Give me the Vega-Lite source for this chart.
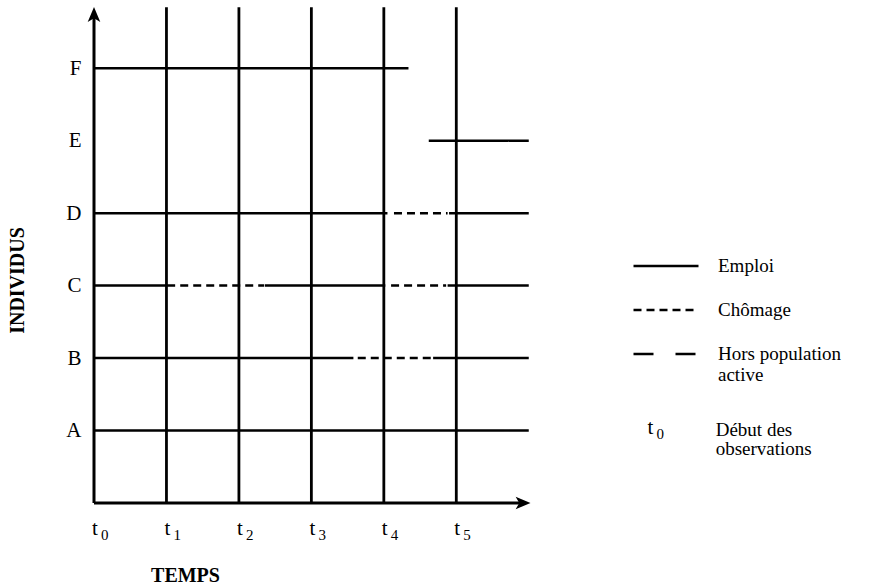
{
  "$schema": "https://vega.github.io/schema/vega-lite/v6.json",
  "width": 442,
  "height": 500,
  "autosize": {"type": "none"},
  "padding": {"left": 94, "top": 3, "right": 343, "bottom": 85},
  "config": {"view": {"stroke": null}, "font": "Liberation Serif", "text": {"font": "Liberation Serif", "color": "black"}},
  "datasets": {
    "segments": [
      {"individu": "A", "rang": 1, "debut": 0, "fin": 6, "etat": "Emploi"},
      {"individu": "B", "rang": 2, "debut": 0, "fin": 3.58, "etat": "Emploi"},
      {"individu": "B", "rang": 2, "debut": 3.64, "fin": 4.66, "etat": "Chômage"},
      {"individu": "B", "rang": 2, "debut": 4.68, "fin": 6, "etat": "Emploi"},
      {"individu": "C", "rang": 3, "debut": 0, "fin": 1.12, "etat": "Emploi"},
      {"individu": "C", "rang": 3, "debut": 1.19, "fin": 2.35, "etat": "Chômage"},
      {"individu": "C", "rang": 3, "debut": 2.36, "fin": 4.02, "etat": "Emploi"},
      {"individu": "C", "rang": 3, "debut": 4.1, "fin": 4.86, "etat": "Chômage"},
      {"individu": "C", "rang": 3, "debut": 4.88, "fin": 6, "etat": "Emploi"},
      {"individu": "D", "rang": 4, "debut": 0, "fin": 4.05, "etat": "Emploi"},
      {"individu": "D", "rang": 4, "debut": 4.14, "fin": 4.88, "etat": "Chômage"},
      {"individu": "D", "rang": 4, "debut": 4.9, "fin": 6, "etat": "Emploi"},
      {"individu": "E", "rang": 5, "debut": 4.62, "fin": 6, "etat": "Emploi"},
      {"individu": "F", "rang": 6, "debut": 0, "fin": 4.34, "etat": "Emploi"}
    ],
    "temps": [
      {"t": 0, "nom": "t", "indice": "0"},
      {"t": 1, "nom": "t", "indice": "1"},
      {"t": 2, "nom": "t", "indice": "2"},
      {"t": 3, "nom": "t", "indice": "3"},
      {"t": 4, "nom": "t", "indice": "4"},
      {"t": 5, "nom": "t", "indice": "5"}
    ],
    "note": [
      {"x": 7.64, "y": 1, "nom": "t", "indice": "0", "texte": ["Début des", "observations"], "xt": 8.58}
    ]
  },
  "layer": [
    {
      "data": {"name": "temps"},
      "transform": [{"filter": "datum.t > 0"}],
      "mark": {"type": "rule", "color": "black", "strokeWidth": 2.8},
      "encoding": {
        "x": {"field": "t", "type": "quantitative", "scale": {"domain": [0, 6.1], "nice": false, "zero": false}},
        "y": {"datum": 0, "type": "quantitative", "scale": {"domain": [0, 6.9], "nice": false, "zero": false}},
        "y2": {"datum": 6.84}
      }
    },
    {
      "data": {"values": [{"a": 0}]},
      "mark": {"type": "rule", "color": "black", "strokeWidth": 3},
      "encoding": {
        "x": {"datum": 0, "type": "quantitative"},
        "y": {"datum": 0, "type": "quantitative"},
        "y2": {"datum": 6.72}
      }
    },
    {
      "data": {"values": [{"a": 0}]},
      "mark": {"type": "rule", "color": "black", "strokeWidth": 3},
      "encoding": {
        "x": {"datum": 0, "type": "quantitative"},
        "x2": {"datum": 5.9},
        "y": {"datum": 0, "type": "quantitative"}
      }
    },
    {
      "data": {"values": [{"a": 0}]},
      "mark": {"type": "point", "filled": true, "color": "black", "opacity": 1, "size": 324, "strokeWidth": 0, "shape": "M0,-1L0.7,0.65L0,0.25L-0.7,0.65Z"},
      "encoding": {
        "x": {"datum": 0, "type": "quantitative"},
        "y": {"datum": 6.72, "type": "quantitative"}
      }
    },
    {
      "data": {"values": [{"a": 0}]},
      "mark": {"type": "point", "filled": true, "color": "black", "opacity": 1, "size": 324, "strokeWidth": 0, "shape": "M1,0L-0.65,0.7L-0.25,0L-0.65,-0.7Z"},
      "encoding": {
        "x": {"datum": 5.9, "type": "quantitative"},
        "y": {"datum": 0, "type": "quantitative"}
      }
    },
    {
      "data": {"name": "segments"},
      "mark": {"type": "rule", "color": "black", "strokeWidth": 2.5},
      "encoding": {
        "x": {
          "field": "debut", "type": "quantitative",
          "axis": {"labels": false, "domain": false, "ticks": false, "grid": false, "title": "TEMPS", "titleFont": "Liberation Serif", "titleFontSize": 20, "titleFontWeight": "bold", "titleColor": "black", "titleX": 91, "titleY": 72, "titleAlign": "center", "titleBaseline": "middle"}
        },
        "x2": {"field": "fin"},
        "y": {
          "field": "rang", "type": "quantitative",
          "axis": {"values": [1, 2, 3, 4, 5, 6], "labelExpr": "['', 'A', 'B', 'C', 'D', 'E', 'F'][datum.value]", "domain": false, "ticks": false, "grid": false, "labelFont": "Liberation Serif", "labelFontSize": 21, "labelColor": "black", "labelPadding": 13, "title": "INDIVIDUS", "titleFont": "Liberation Serif", "titleFontSize": 20, "titleFontWeight": "bold", "titleColor": "black", "titleX": -77, "titleY": 277, "titleAngle": -90, "titleAlign": "center", "titleBaseline": "middle"}
        },
        "strokeDash": {
          "field": "etat", "type": "nominal",
          "scale": {"domain": ["Emploi", "Chômage", "Hors population active"], "range": [[1, 0], [8, 5], [20, 22]]},
          "legend": {
            "orient": "none", "legendX": 538, "legendY": 229, "title": null, "padding": 0,
            "symbolType": "stroke", "symbolSize": 4225, "symbolStrokeWidth": 2.5, "symbolStrokeColor": "black",
            "labelFont": "Liberation Serif", "labelFontSize": 19, "labelColor": "black", "labelOffset": 18, "labelLimit": 300,
            "rowPadding": -11,
            "labelExpr": "datum.label === 'Hors population active' ? ['Hors population', 'active'] : datum.label"
          }
        }
      }
    },
    {
      "data": {"name": "temps"},
      "mark": {"type": "text", "align": "left", "baseline": "alphabetic", "fontSize": 21, "dx": -2, "dy": 32},
      "encoding": {
        "x": {"field": "t", "type": "quantitative"},
        "y": {"datum": 0, "type": "quantitative"},
        "text": {"field": "nom"}
      }
    },
    {
      "data": {"name": "temps"},
      "mark": {"type": "text", "align": "left", "baseline": "alphabetic", "fontSize": 15, "dx": 7, "dy": 37},
      "encoding": {
        "x": {"field": "t", "type": "quantitative"},
        "y": {"datum": 0, "type": "quantitative"},
        "text": {"field": "indice"}
      }
    },
    {
      "data": {"name": "note"},
      "mark": {"type": "text", "align": "left", "baseline": "alphabetic", "fontSize": 21, "dy": 3},
      "encoding": {
        "x": {"field": "x", "type": "quantitative"},
        "y": {"field": "y", "type": "quantitative"},
        "text": {"field": "nom"}
      }
    },
    {
      "data": {"name": "note"},
      "mark": {"type": "text", "align": "left", "baseline": "alphabetic", "fontSize": 15, "dx": 9, "dy": 8},
      "encoding": {
        "x": {"field": "x", "type": "quantitative"},
        "y": {"field": "y", "type": "quantitative"},
        "text": {"field": "indice"}
      }
    },
    {
      "data": {"name": "note"},
      "mark": {"type": "text", "align": "left", "baseline": "alphabetic", "fontSize": 19, "dy": 5, "lineHeight": 19},
      "encoding": {
        "x": {"field": "xt", "type": "quantitative"},
        "y": {"field": "y", "type": "quantitative"},
        "text": {"field": "texte"}
      }
    }
  ]
}
